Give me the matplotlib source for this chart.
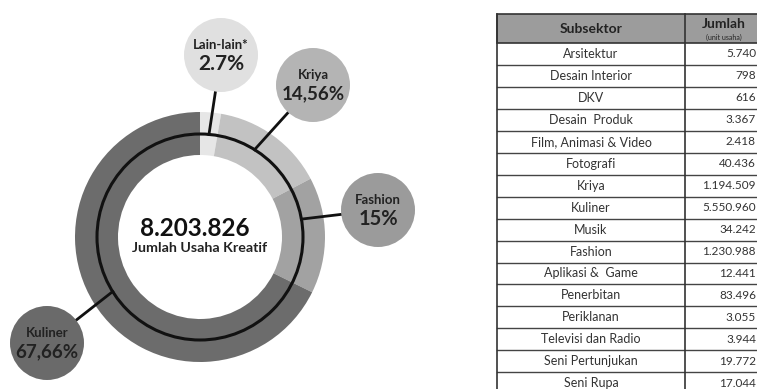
import matplotlib.pyplot as plt
from matplotlib.patches import Circle, Rectangle
import numpy as np

plt.rcParams['font.family'] = ['Lato', 'DejaVu Sans']

# ring data (share of total, %)
segmen = ["Lain-lain*", "Kriya", "Fashion", "Kuliner"]
persen = [2.7, 14.56, 15, 67.66]
persen_label = ["2.7%", "14,56%", "15%", "67,66%"]
total_label = "8.203.826"

# table data
subsektor = ["Arsitektur", "Desain Interior", "DKV", "Desain  Produk",
             "Film, Animasi & Video", "Fotografi", "Kriya", "Kuliner", "Musik",
             "Fashion", "Aplikasi &  Game", "Penerbitan", "Periklanan",
             "Televisi dan Radio", "Seni Pertunjukan", "Seni Rupa"]
jumlah = [5740, 798, 616, 3367, 2418, 40436, 1194509, 5550960, 34242,
          1230988, 12441, 83496, 3055, 3944, 19772, 17044]

W, H = 757, 389


def Y(py):
    return H - py


ring_colors = ["#e6e6e6", "#c2c2c2", "#a2a2a2", "#6c6c6c"]
bubble_colors = ["#e0e0e0", "#b4b4b4", "#9b9b9b", "#6a6a6a"]
# bubble centres and where the connector meets the inner circle (deg)
bubble_pos = [(221, 55), (313, 85), (378, 210), (47, 343)]
hit_angle = [85, 58, 10, 212]
pct_size = [15, 13.5, 14.5, 13.5]

fig = plt.figure(figsize=(W / 100, H / 100), dpi=100)
ax = fig.add_axes([0, 0, 1, 1])

cx, cy, r_out = 200, Y(237), 125
ax.pie(persen, colors=ring_colors, startangle=90, counterclock=False,
       radius=r_out, center=(cx, cy), frame=True,
       wedgeprops=dict(width=43, linewidth=0))
r_mid = 103
ax.add_patch(Circle((cx, cy), r_mid, fill=False, lw=2.2, ec="#111111", zorder=3))

for (bx, by), ang, col, lab, pct, fs in zip(bubble_pos, hit_angle, bubble_colors,
                                            segmen, persen_label, pct_size):
    a = np.deg2rad(ang)
    px, py = cx + r_mid * np.cos(a), cy + r_mid * np.sin(a)
    ax.plot([px, bx], [py, Y(by)], color="#111111", lw=2, zorder=2)
    ax.add_patch(Circle((bx, Y(by)), 37, color=col, lw=0, zorder=4))
    ax.text(bx, Y(by) + 10, lab, ha="center", va="center", fontsize=9.5,
            fontweight="bold", color="#222222", zorder=5)
    ax.text(bx, Y(by) - 9, pct, ha="center", va="center", fontsize=fs,
            fontweight="bold", color="#222222", zorder=5)

ax.text(cx - 5, Y(228), total_label, ha="center", va="center", fontsize=17.5,
        fontweight="bold", color="#111111", zorder=5)
ax.text(cx, Y(248), "Jumlah Usaha Kreatif", ha="center", va="center",
        fontsize=10.3, fontweight="bold", color="#222222", zorder=5)

# table
x0, xd, x1 = 497, 685, 762
top, head_h, row_h = 14, 29, 21.95
ax.add_patch(Rectangle((x0, Y(top + head_h)), x1 - x0, head_h,
                       fc="#9c9c9c", ec="#333333", lw=1.2))
ax.text((x0 + xd) / 2, Y(top + head_h / 2), "Subsektor", ha="center",
        va="center", fontsize=10, fontweight="bold", color="#222222")
ax.text(724, Y(24), "Jumlah", ha="center", va="center", fontsize=10,
        fontweight="bold", color="#222222")
ax.text(724, Y(37.5), "(unit usaha)", ha="center", va="center", fontsize=5,
        color="#222222")
nrow = len(subsektor)
y_start = top + head_h
for i, (nama, nilai) in enumerate(zip(subsektor, jumlah)):
    yt = y_start + i * row_h
    ax.plot([x0, x1], [Y(yt + row_h), Y(yt + row_h)], color="#444444", lw=1)
    ax.text((x0 + xd) / 2, Y(yt + row_h / 2), nama, ha="center", va="center",
            fontsize=9, color="#333333")
    ax.text(756, Y(yt + row_h / 2), f"{nilai:,}".replace(",", "."),
            ha="right", va="center", fontsize=8.5, color="#333333")
bottom = y_start + nrow * row_h
ax.plot([x0, x0], [Y(top), Y(bottom)], color="#333333", lw=1.2)
ax.plot([xd, xd], [Y(top), Y(bottom)], color="#333333", lw=1.2)

ax.set_xlim(0, W)
ax.set_ylim(0, H)
ax.set_aspect("equal")
ax.axis("off")
fig.savefig("out.png", dpi=100)
